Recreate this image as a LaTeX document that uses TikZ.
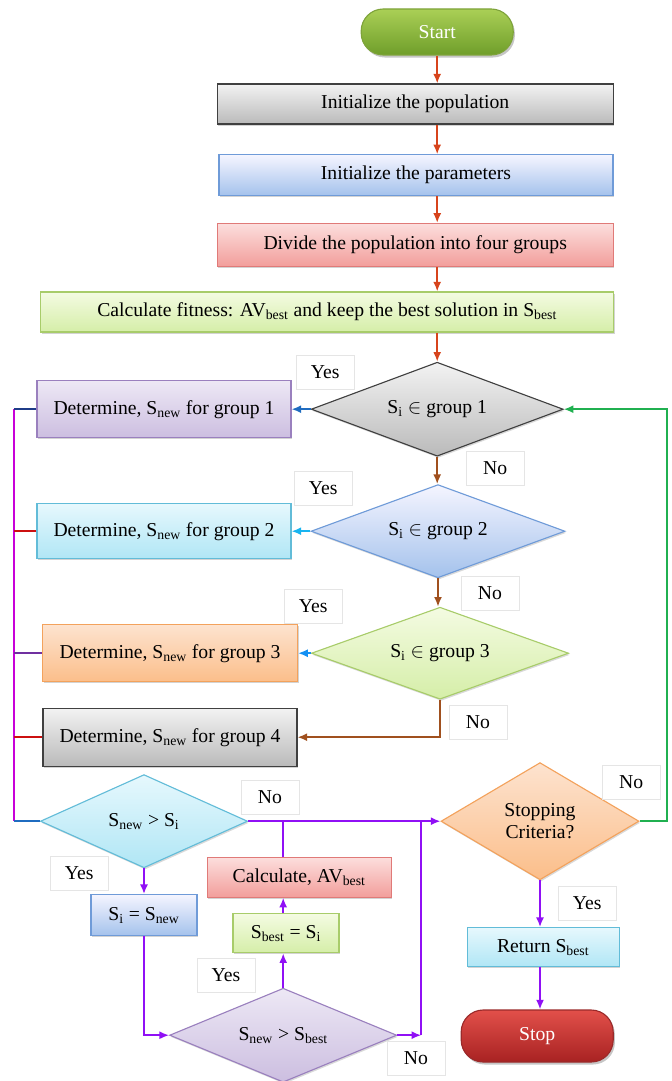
\documentclass[tikz,border=0pt]{standalone}
\usepackage{fontspec}
\setmainfont{Liberation Serif}
\usetikzlibrary{shapes.geometric,arrows.meta,shadows}

\definecolor{arrRed}{HTML}{D7441C}
\definecolor{arrBrown}{HTML}{A0501E}
\definecolor{arrBlue}{HTML}{1F6CC0}
\definecolor{arrCyan}{HTML}{18B4F0}
\definecolor{arrGreen}{HTML}{20B050}
\definecolor{arrPurple}{HTML}{9010F5}
\definecolor{busMag}{HTML}{C800D8}
\definecolor{busNavy}{HTML}{1F3C88}
\definecolor{busRed}{HTML}{CC1010}
\definecolor{busViolet}{HTML}{7030A0}

\begin{document}
\begin{tikzpicture}[font=\fontsize{14}{16}\selectfont,
  proc/.style={draw, line width=0.8pt, inner sep=2pt,
    drop shadow={opacity=0.35, shadow xshift=0.8pt, shadow yshift=-1.2pt}},
  dec/.style={diamond, draw, line width=0.8pt, inner xsep=-1cm, inner ysep=-0.25cm,
    drop shadow={opacity=0.3, shadow xshift=0.8pt, shadow yshift=-1.2pt}},
  term/.style={draw, line width=0.8pt, rounded corners=0.55cm, text=white,
    drop shadow={opacity=0.45, shadow xshift=1.2pt, shadow yshift=-1.8pt}},
  lbl/.style={draw=black!10, fill=white, minimum width=1.45cm, minimum height=0.85cm},
  grayf/.style={top color=black!5, bottom color=black!27, draw=black!75},
  bluef/.style={top color=blue!4!white, bottom color={rgb,255:red,164;green,194;blue,236}, draw={rgb,255:red,111;green,155;blue,216}},
  redf/.style={top color={rgb,255:red,252;green,222;blue,221}, bottom color={rgb,255:red,242;green,158;blue,155}, draw={rgb,255:red,224;green,122;blue,120}},
  greenf/.style={top color={rgb,255:red,244;green,251;blue,226}, bottom color={rgb,255:red,213;green,238;blue,168}, draw={rgb,255:red,168;green,204;blue,106}},
  purplef/.style={top color={rgb,255:red,237;green,232;blue,245}, bottom color={rgb,255:red,204;green,190;blue,224}, draw={rgb,255:red,154;green,128;blue,190}},
  cyanf/.style={top color={rgb,255:red,230;green,248;blue,253}, bottom color={rgb,255:red,176;green,230;blue,245}, draw={rgb,255:red,98;green,188;blue,216}},
  orangef/.style={top color={rgb,255:red,253;green,227;blue,207}, bottom color={rgb,255:red,251;green,190;blue,138}, draw={rgb,255:red,243;green,162;blue,92}},
  ln/.style={line width=1.2pt},
  arr/.style={ln, -{Latex[length=2.4mm,width=2mm]}},
]
  \useasboundingbox (0,0) rectangle (16.775,-27.025);

  % coluna de cima
  \node[term, top color={rgb,255:red,170;green,207;blue,86}, bottom color={rgb,255:red,111;green,158;blue,42},
        draw={rgb,255:red,126;green,163;blue,58}, minimum width=3.8cm, minimum height=1.15cm]
        (start) at (10.93,-0.80) {Start};
  \node[proc, grayf, minimum width=9.9cm, minimum height=1.0cm] (pop) at (10.38,-2.60) {Initialize the population};
  \node[proc, bluef, minimum width=9.85cm, minimum height=1.02cm] (par) at (10.40,-4.38) {Initialize the parameters};
  \node[proc, redf, minimum width=9.9cm, minimum height=1.07cm] (div) at (10.38,-6.12) {Divide the population into four groups};
  \node[proc, greenf, minimum width=14.33cm, minimum height=1.0cm] (fit) at (8.18,-7.80)
       {Calculate fitness: AV\textsubscript{best} and keep the best solution in S\textsubscript{best}};

  % os quatro grupos
  \node[dec, grayf, minimum width=6.3cm, minimum height=2.35cm] (d1) at (10.93,-10.23) {S\textsubscript{i} $\in$ group 1};
  \node[dec, bluef, minimum width=6.35cm, minimum height=2.33cm] (d2) at (10.95,-13.28) {S\textsubscript{i} $\in$ group 2};
  \node[dec, greenf, minimum width=6.43cm, minimum height=2.3cm] (d3) at (11.00,-16.33) {S\textsubscript{i} $\in$ group 3};

  \node[proc, purplef, minimum width=6.35cm, minimum height=1.43cm] (g1) at (4.10,-10.23) {Determine, S\textsubscript{new} for group 1};
  \node[proc, cyanf, minimum width=6.35cm, minimum height=1.38cm] (g2) at (4.10,-13.28) {Determine, S\textsubscript{new} for group 2};
  \node[proc, orangef, minimum width=6.38cm, minimum height=1.43cm] (g3) at (4.25,-16.33) {Determine, S\textsubscript{new} for group 3};
  \node[proc, grayf, minimum width=6.35cm, minimum height=1.45cm] (g4) at (4.25,-18.43) {Determine, S\textsubscript{new} for group 4};

  % parte de baixo
  \node[dec, cyanf, minimum width=5.18cm, minimum height=2.33cm] (d4) at (3.60,-20.53) {S\textsubscript{new} > S\textsubscript{i}};
  \node[proc, bluef, minimum width=2.65cm, minimum height=1.03cm] (si) at (3.60,-22.88) {S\textsubscript{i} = S\textsubscript{new}};
  \node[dec, purplef, minimum width=5.68cm, minimum height=2.35cm] (d5) at (7.08,-25.88) {S\textsubscript{new} > S\textsubscript{best}};
  \node[proc, greenf, minimum width=2.65cm, minimum height=0.98cm] (sb) at (7.15,-23.33) {S\textsubscript{best} = S\textsubscript{i}};
  \node[proc, redf, minimum width=4.6cm, minimum height=1.0cm] (av) at (7.48,-21.93) {Calculate, AV\textsubscript{best}};
  \node[dec, orangef, minimum width=4.95cm, minimum height=2.93cm, align=center] (sc) at (13.50,-20.53) {Stopping\\Criteria?};
  \node[proc, cyanf, minimum width=3.8cm, minimum height=0.98cm] (ret) at (13.58,-23.68) {Return S\textsubscript{best}};
  \node[term, top color={rgb,255:red,226;green,80;blue,74}, bottom color={rgb,255:red,168;green,34;blue,34},
        draw={rgb,255:red,154;green,42;blue,42}, minimum width=3.8cm, minimum height=1.3cm]
        (stop) at (13.43,-25.90) {Stop};

  % rótulos
  \node[lbl] (y1) at (8.13,-9.30) {Yes};
  \node[lbl] (n1) at (12.38,-11.70) {No};
  \node[lbl] (y2) at (8.08,-12.20) {Yes};
  \node[lbl] (n2) at (12.25,-14.83) {No};
  \node[lbl] (y3) at (7.83,-15.15) {Yes};
  \node[lbl] (n3) at (11.95,-18.05) {No};
  \node[lbl] (n4) at (6.75,-19.93) {No};
  \node[lbl] (y4) at (1.98,-21.83) {Yes};
  \node[lbl] (y5) at (5.65,-24.38) {Yes};
  \node[lbl] (n5) at (10.40,-26.45) {No};
  \node[lbl] (n6) at (15.78,-19.55) {No};
  \node[lbl] (y6) at (14.68,-22.58) {Yes};

  \coordinate (bus) at (0.35,-10.23);
  \coordinate (j2) at (10.53,-25.88);
  \coordinate (gr) at (16.68,-20.53);

  % setas
  \draw[arr, arrRed] (start) -- (start |- pop.north);
  \draw[arr, arrRed] (pop.south -| start) -- (start |- par.north);
  \draw[arr, arrRed] (par.south -| start) -- (start |- div.north);
  \draw[arr, arrRed] (div.south -| start) -- (start |- fit.north);
  \draw[arr, arrRed] (fit.south -| d1) -- (d1.north);
  \draw[arr, arrBrown] (d1.south) -- (d1 |- d2.north);
  \draw[arr, arrBrown] (d2.south) -- (d2.south |- d3.north);
  \draw[arr, arrBrown] (d3.south) |- (g4.east);
  \draw[arr, arrBlue] (d1.west) -- (g1.east);
  \draw[arr, arrCyan] (d2.west) -- (g2.east);
  \draw[arr, arrCyan!80!blue] (d3.west) -- (g3.east);

  \draw[ln, busMag] (bus) -- (bus |- d4.west);
  \draw[ln, busNavy] (g1.west) -- (bus);
  \draw[ln, busRed] (g2.west) -- (bus |- g2.west);
  \draw[ln, busViolet] (g3.west) -- (bus |- g3.west);
  \draw[ln, busRed] (g4.west) -- (bus |- g4.west);
  \draw[ln, arrBlue] (bus |- d4.west) -- (d4.west);

  \draw[arr, arrPurple] (d4.east) -- (sc.west);
  \draw[arr, arrPurple] (d4.south) -- (si.north);
  \draw[arr, arrPurple] (si.south) |- (d5.west);
  \draw[arr, arrPurple] (d5.north) -- (sb.south -| d5);
  \draw[arr, arrPurple] (sb.north -| d5) -- (av.south -| d5);
  \draw[ln, arrPurple] (av.north -| d5) -- (d5 |- d4.east);
  \draw[arr, arrPurple] (d5.east) -- (j2);
  \draw[ln, arrPurple] (j2) -- (j2 |- d4.east);
  \draw[arr, arrPurple] (sc.south) -- (sc |- ret.north);
  \draw[arr, arrPurple] (ret.south -| sc) -- (sc |- stop.north);
  \draw[arr, arrGreen] (sc.east) -- (gr) |- (d1.east);
\end{tikzpicture}
\end{document}
